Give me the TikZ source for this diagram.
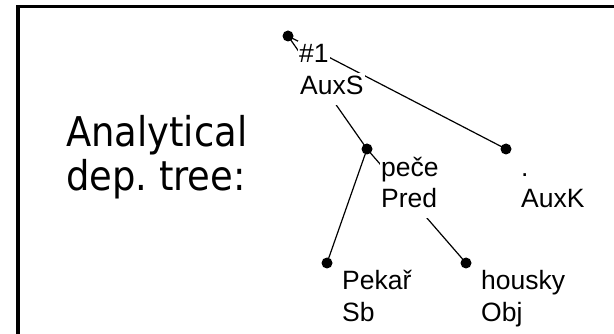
\documentclass[tikz,border=0pt]{standalone}
\usepackage{fontspec}
\newfontfamily\treefont{Liberation Sans}
\newfontfamily\capfont{DejaVu Sans Condensed}
\frenchspacing
\begin{document}
\begin{tikzpicture}[x=1pt,y=-1pt,
  dot/.style={circle,fill=black,inner sep=0pt,minimum size=11pt},
  edge/.style={line width=1.2pt},
  lbl/.style={anchor=base west,fill=white,inner xsep=1pt,inner ysep=1.5pt,
    text height=20pt,text depth=8.5pt,font=\treefont\fontsize{26.5}{31}\selectfont},
  headtext/.style={anchor=base west,inner sep=0pt,font=\capfont\fontsize{41}{44}\selectfont}]
\useasboundingbox (0,0) rectangle (614,334);
% open frame: left and top rules
\draw[line width=3.5pt] (18,340) |- (620,6.5);
% heading
\node[headtext] (cap1) at (66,147) {Analytical};
\node[headtext] (cap2) at (66,191) {dep. tree:};
% tree nodes
\node[dot] (root) at (288,36) {};
\node[dot] (pece) at (367,149) {};
\node[dot] (auxk) at (506,149) {};
\node[dot] (pekar) at (327,263) {};
\node[dot] (housky) at (466,263) {};
% dependency edges
\draw[edge] (root.center) -- (pece.center);
\draw[edge] (root.center) -- (auxk.center);
\draw[edge] (pece.center) -- (pekar.center);
\draw[edge] (pece.center) -- (housky.center);
% labels: word form above, analytical function below
\node[lbl] (rootf) at (298,63) {\#1};
\node[lbl] (roota) at (299,95) {AuxS};
\node[lbl] (pecef) at (380,177) {peče};
\node[lbl] (pecea) at (380,208) {Pred};
\node[lbl] (auxkf) at (520,177) {.};
\node[lbl] (auxka) at (520,208) {AuxK};
\node[lbl] (pekarf) at (341,290) {Pekař};
\node[lbl] (pekara) at (341,321) {Sb};
\node[lbl] (houskyf) at (480,290) {housky};
\node[lbl] (houskya) at (480,321) {Obj};
\end{tikzpicture}
\end{document}
